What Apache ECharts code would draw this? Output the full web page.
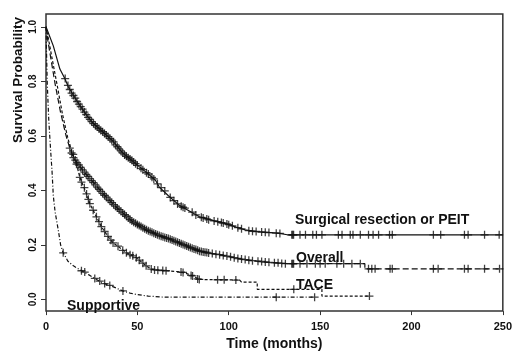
<!DOCTYPE html>
<html>
<head>
<meta charset="utf-8">
<script src="https://cdn.jsdelivr.net/npm/echarts/dist/echarts.min.js"></script>
<style>
  html, body { margin: 0; padding: 0; background: #fff; }
  #chart { width: 515px; height: 356px; }
</style>
</head>
<body>
<div id="chart"></div>
<script>
// Kaplan-Meier curves: [months, survival]
const surgical = [[0,1],[4,0.93],[7.6,0.845],[10.3,0.81],[12.2,0.78],[14.9,0.75],[18.5,0.712],[22.2,0.676],[25.8,0.646],[31,0.615],[36.7,0.58],[42,0.537],[46,0.515],[51,0.487],[56,0.46],[60,0.436],[62,0.412],[67,0.38],[73,0.345],[77,0.33],[84,0.303],[91,0.29],[98,0.279],[104,0.265],[109,0.255],[115,0.249],[127,0.243],[132,0.237],[250,0.237]];
const overall = [[0,1],[1,0.95],[3,0.87],[5,0.79],[8,0.685],[11,0.6],[13,0.555],[15,0.52],[20.3,0.472],[25.8,0.43],[33,0.375],[40.3,0.327],[47.5,0.285],[54.8,0.255],[62,0.234],[67.5,0.222],[73,0.207],[78,0.193],[84,0.177],[89,0.17],[95,0.164],[101,0.156],[107.5,0.147],[114,0.141],[122,0.136],[132,0.131],[174.5,0.131],[174.5,0.112],[250,0.112]];
const tace = [[0,1],[1.5,0.95],[4,0.86],[6,0.79],[9,0.68],[12,0.59],[14,0.544],[16.7,0.496],[18.5,0.448],[22.2,0.387],[24,0.351],[27.6,0.303],[30.3,0.267],[33.9,0.231],[36.7,0.207],[39.4,0.195],[44,0.171],[49.4,0.153],[54.8,0.123],[57.6,0.111],[60,0.108],[66,0.105],[72,0.102],[76,0.097],[80,0.087],[84,0.073],[106,0.071],[107,0.063],[115.6,0.063],[115.6,0.037],[151,0.037],[151,0.012],[177,0.012]];
const supportive = [[0,1],[0.3,0.9],[0.7,0.79],[1.5,0.66],[2.5,0.55],[3.3,0.47],[4,0.38],[5,0.32],[6.7,0.255],[8,0.2],[9.4,0.171],[12,0.14],[15,0.123],[20.3,0.102],[24,0.088],[27.6,0.073],[31,0.06],[35,0.051],[39,0.04],[42,0.031],[46,0.023],[49.4,0.018],[56,0.012],[65,0.008],[147,0.008]];

// censoring marks (+)
const surgicalCensor = [[10.5,0.81],[12,0.785],[13,0.77],[14,0.757],[15,0.748],[16,0.738],[17,0.726],[18,0.716],[19,0.707],[20,0.698],[21,0.687],[22,0.678],[23,0.668],[24,0.66],[25,0.652],[26,0.645],[27,0.638],[28,0.632],[29,0.626],[30,0.62],[31,0.615],[32,0.609],[33,0.603],[34,0.597],[35,0.59],[36,0.584],[37,0.578],[38,0.567],[39,0.56],[40,0.552],[41,0.545],[42,0.537],[43,0.53],[44,0.525],[45,0.52],[46,0.515],[47,0.51],[48,0.504],[49,0.498],[50,0.492],[52,0.481],[53,0.476],[55,0.465],[56,0.46],[58,0.448],[59,0.442],[61,0.424],[63,0.41],[65,0.398],[68,0.374],[70,0.362],[72,0.35],[74,0.342],[75,0.338],[76,0.335],[80,0.32],[82,0.31],[85,0.301],[86,0.299],[88,0.295],[89,0.292],[92,0.288],[94,0.285],[96,0.282],[97,0.28],[99,0.277],[100,0.274],[102,0.27],[105,0.263],[107,0.259],[111,0.252],[113,0.25],[115,0.249],[118,0.247],[120,0.246],[122,0.245],[126,0.243],[128,0.242],[134.5,0.237],[135,0.237],[135.5,0.237],[139,0.237],[142,0.237],[146,0.237],[148,0.237],[151,0.237],[160,0.237],[162,0.237],[166.5,0.237],[168,0.237],[172,0.237],[176.5,0.237],[179,0.237],[182,0.237],[188,0.237],[189.5,0.237],[212,0.237],[216,0.237],[229,0.237],[231,0.237],[240,0.237],[248,0.237]];
const overallCensor = [[13,0.555],[14,0.537],[15,0.52],[16,0.511],[17,0.502],[18,0.493],[19,0.484],[20,0.475],[21,0.467],[22,0.459],[23,0.451],[24,0.443],[25,0.436],[26,0.428],[27,0.42],[28,0.412],[29,0.404],[30,0.396],[31,0.389],[32,0.382],[33,0.375],[34,0.368],[35,0.362],[36,0.355],[37,0.348],[38,0.342],[39,0.335],[40,0.329],[41,0.323],[42,0.317],[43,0.311],[44,0.305],[45,0.299],[46,0.293],[47,0.288],[48,0.283],[49,0.279],[50,0.275],[51,0.271],[52,0.267],[53,0.263],[54,0.259],[55,0.255],[56,0.252],[57,0.249],[58,0.246],[59,0.243],[60,0.24],[61,0.237],[62,0.234],[63,0.232],[64,0.23],[65,0.227],[66,0.225],[67,0.223],[68,0.221],[69,0.218],[70,0.215],[71,0.212],[72,0.21],[73,0.207],[74,0.204],[75,0.201],[76,0.199],[77,0.196],[78,0.193],[79,0.19],[80,0.188],[81,0.185],[82,0.183],[83,0.18],[84,0.177],[85,0.176],[86,0.174],[87,0.173],[88,0.172],[89,0.17],[91,0.168],[93,0.166],[95,0.164],[97,0.161],[99,0.159],[101,0.156],[103,0.153],[105,0.15],[107,0.148],[109,0.146],[111,0.144],[113,0.142],[116,0.14],[118,0.139],[120,0.137],[122,0.136],[125,0.134],[127,0.134],[129,0.132],[131,0.131],[134.5,0.131],[135,0.131],[135.5,0.131],[139,0.131],[142.8,0.131],[147.4,0.131],[150,0.131],[152.8,0.131],[159.2,0.131],[162.9,0.131],[167.4,0.131],[172,0.131],[176.5,0.112],[178.3,0.112],[180.1,0.112],[188.3,0.112],[189.5,0.112],[212,0.112],[214.6,0.112],[229,0.112],[231,0.112],[240,0.112],[248.2,0.112]];
const taceCensor = [[14.9,0.532],[16.7,0.496],[18.5,0.448],[19.4,0.43],[21,0.41],[22.2,0.387],[23.2,0.367],[24,0.351],[25.8,0.327],[27.6,0.303],[29,0.285],[30.3,0.267],[32.1,0.249],[33.9,0.231],[35.5,0.217],[36.7,0.207],[39.4,0.195],[42,0.18],[44,0.171],[46,0.164],[47.5,0.16],[49.4,0.153],[51,0.144],[53,0.133],[54.8,0.123],[57.6,0.111],[59.4,0.108],[61.2,0.107],[63.9,0.106],[65.7,0.105],[73.9,0.1],[75,0.099],[79.4,0.088],[80.2,0.086],[83,0.075],[83.9,0.073],[93.9,0.072],[97.5,0.072],[103.9,0.071],[135.6,0.037],[177,0.012]];
const supportiveCensor = [[9.4,0.171],[19.4,0.105],[21.2,0.1],[26.7,0.077],[29.4,0.067],[32.1,0.058],[34.9,0.051],[42.1,0.031],[126,0.008],[147,0.008]];

const xTicks = [0, 50, 100, 150, 200, 250];
const yTicks = [0, 0.2, 0.4, 0.6, 0.8, 1.0];

const ink = '#111';
const font = 'Liberation Sans, Arial, sans-serif';
const plus = 'path://M4.2,0H5.8V4.2H10V5.8H5.8V10H4.2V5.8H0V4.2H4.2Z';

const curve = (name, data, type)=>({
    name,
    type: 'line',
    data,
    showSymbol: false,
    silent: true,
    lineStyle: { color: ink, width: 1.2, type }
});
const marks = (name, data)=>({
    name,
    type: 'scatter',
    data,
    symbol: plus,
    symbolSize: 8,
    silent: true,
    itemStyle: { color: ink }
});

const label = (text, x, y)=>({
    type: 'text',
    x, y,
    style: { text, font: 'bold 14px ' + font, fill: ink, textVerticalAlign: 'middle' }
});

const chart = echarts.init(document.getElementById('chart'), null, { renderer: 'canvas' });
chart.setOption({
    animation: false,
    backgroundColor: '#fff',
    grid: {
        left: 46, right: 10, top: 14, bottom: 40,
        show: true,
        borderColor: '#333',
        borderWidth: 1.5
    },
    xAxis: {
        type: 'value',
        min: 0,
        max: 250,
        interval: 50,
        axisLine: { show: false, onZero: false },
        axisTick: { show: true, length: 4, lineStyle: { color: '#333' }, customValues: xTicks },
        axisLabel: { color: ink, fontWeight: 'bold', fontSize: 11, fontFamily: font, margin: 10, customValues: xTicks },
        splitLine: { show: false },
        name: 'Time (months)',
        nameLocation: 'middle',
        nameGap: 19,
        nameTextStyle: { color: ink, fontWeight: 'bold', fontSize: 14, fontFamily: font }
    },
    yAxis: {
        type: 'value',
        min: -0.043,
        max: 1.047,
        axisLine: { show: false, onZero: false },
        axisTick: { show: true, length: 5, lineStyle: { color: '#333' }, customValues: yTicks },
        axisLabel: {
            color: ink, fontWeight: 'bold', fontSize: 10, fontFamily: font,
            rotate: 90, margin: 8, customValues: yTicks,
            formatter: v => v.toFixed(1)
        },
        splitLine: { show: false }
    },
    graphic: [
        {
            type: 'text',
            x: 18, y: 80,
            rotation: Math.PI / 2,
            style: { text: 'Survival Probability', font: 'bold 13.5px ' + font, fill: ink, textAlign: 'center', textVerticalAlign: 'middle' }
        },
        label('Surgical resection or PEIT', 295, 220.5),
        label('Overall', 296, 258),
        label('TACE', 296, 285.5),
        label('Supportive', 67, 306.5)
    ],
    series: [
        curve('Surgical resection or PEIT', surgical, 'solid'),
        curve('Overall', overall, [6, 3]),
        curve('TACE', tace, [3, 2]),
        curve('Supportive', supportive, [4, 2, 1, 2]),
        marks('Surgical censored', surgicalCensor),
        marks('Overall censored', overallCensor),
        marks('TACE censored', taceCensor),
        marks('Supportive censored', supportiveCensor)
    ]
});
</script>
</body>
</html>
